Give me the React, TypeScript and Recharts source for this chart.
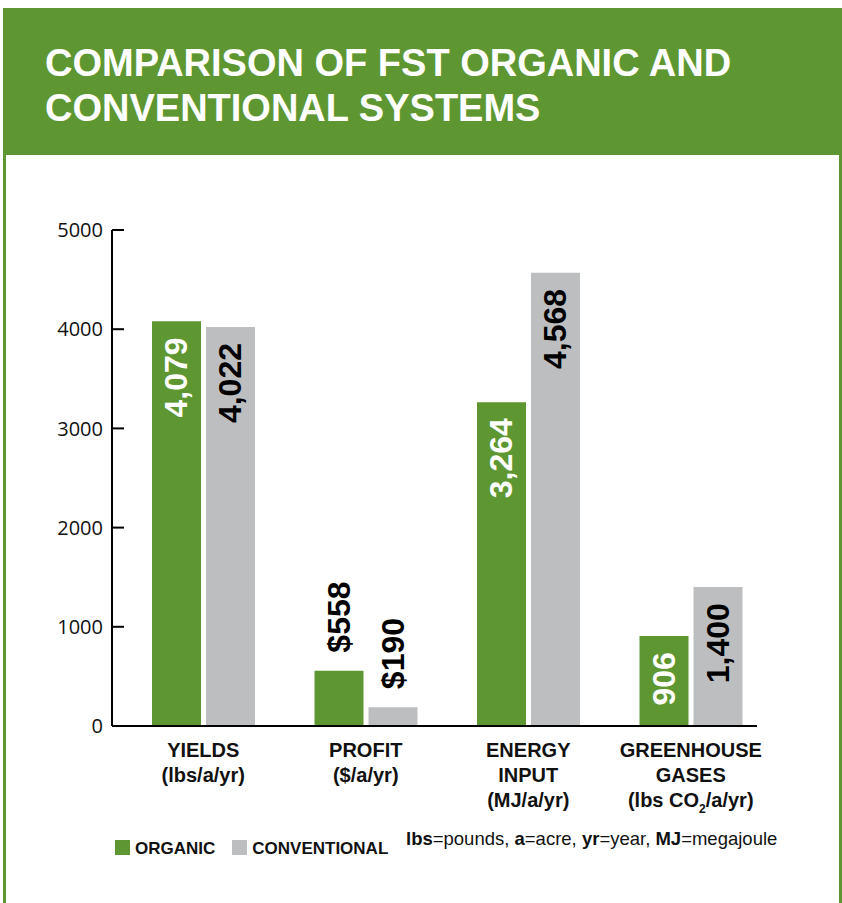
import React from 'react';
import { BarChart, Bar, XAxis, YAxis } from 'recharts';

const categories = ['yields', 'profit', 'energy', 'ghg'];
const categoryLines = [
  ['YIELDS', '(lbs/a/yr)'],
  ['PROFIT', '($/a/yr)'],
  ['ENERGY', 'INPUT', '(MJ/a/yr)'],
  ['GREENHOUSE', 'GASES', '(lbs CO2/a/yr)'],
];
const organicValues = [4079, 558, 3264, 906];
const conventionalValues = [4022, 190, 4568, 1400];
const valuePrefix = ['', '$', '', ''];
const yTicks = [0, 1000, 2000, 3000, 4000, 5000];

const GREEN = '#5e9732';
const GRAY = '#bdbec0';
const SANS = '"Liberation Sans", Arial, Helvetica, sans-serif';
const AXIS_LEN = 645;

const data = categories.map((key, i) => ({
  key,
  organic: organicValues[i],
  conventional: conventionalValues[i],
}));

function formatValue(value: number, index: number) {
  return valuePrefix[index] + value.toLocaleString('en-US');
}

function YTick(props: any) {
  const { x, y, payload } = props;
  return (
    <g>
      <line x1={x} x2={x + 12} y1={y} y2={y} stroke="#000" strokeWidth={2} />
      {payload.value === 0 && (
        <line x1={x} x2={x + AXIS_LEN} y1={y} y2={y} stroke="#000" strokeWidth={2} />
      )}
      <text
        x={x - 9}
        y={y}
        dy="0.36em"
        textAnchor="end"
        fontFamily='"Open Sans", sans-serif'
        fontSize={20}
        fill="#111"
      >
        {payload.value}
      </text>
    </g>
  );
}

function XTick(props: any) {
  const { x, y, index } = props;
  const lines = categoryLines[index] || [];
  return (
    <g>
      {lines.map((line, i) => {
        const parts = line.split('CO2');
        return (
          <text
            key={i}
            x={x}
            y={y + 31 + i * 25}
            textAnchor="middle"
            fontFamily={SANS}
            fontWeight="bold"
            fontSize={20}
            fill="#111"
          >
            {parts.length > 1 ? (
              <>
                {parts[0]}CO
                <tspan fontSize={12} dy={6}>2</tspan>
                <tspan dy={-6}>{parts[1]}</tspan>
              </>
            ) : (
              line
            )}
          </text>
        );
      })}
    </g>
  );
}

// tall bars get their value inside, short ones above
function makeLabel(inside: string) {
  return (props: any) => {
    const { x, y, width, height, value, index } = props;
    const cx = x + width / 2;
    const fitsInside = height > 70;
    const ay = fitsInside ? y + 16 : y - 18;
    return (
      <text
        x={cx}
        y={ay}
        transform={`rotate(-90, ${cx}, ${ay})`}
        textAnchor={fitsInside ? 'end' : 'start'}
        dominantBaseline="central"
        fontFamily={SANS}
        fontWeight="bold"
        fontSize={32}
        fill={fitsInside ? inside : '#000'}
      >
        {formatValue(value, index)}
      </text>
    );
  };
}

export default function App() {
  return (
    <div style={{ position: 'absolute', left: 0, top: 0, width: 842, height: 903, background: '#fff', overflow: 'hidden' }}>
      <div
        style={{
          position: 'absolute',
          left: 3,
          top: 8,
          width: 833,
          height: 900,
          borderLeft: `3px solid ${GREEN}`,
          borderRight: `3px solid ${GREEN}`,
        }}
      />
      <div style={{ position: 'absolute', left: 3, top: 8, width: 839, height: 147, background: GREEN }} />
      <div
        style={{
          position: 'absolute',
          left: 45,
          top: 41,
          color: '#fff',
          fontFamily: SANS,
          fontWeight: 'bold',
          fontSize: 38,
          lineHeight: '45px',
        }}
      >
        COMPARISON OF FST ORGANIC AND
        <br />
        CONVENTIONAL SYSTEMS
      </div>

      <div style={{ position: 'absolute', left: 0, top: 0 }}>
        <BarChart
          width={842}
          height={903}
          data={data}
          margin={{ top: 230, right: 70, bottom: 77, left: 0 }}
          barGap={5}
        >
          <XAxis
            dataKey="key"
            axisLine={false}
            tickLine={false}
            tickSize={0}
            tickMargin={0}
            height={100}
            padding={{ left: 10, right: 0 }}
            tick={<XTick />}
            interval={0}
          />
          <YAxis
            width={112}
            domain={[0, 5000]}
            ticks={yTicks}
            axisLine={{ stroke: '#000', strokeWidth: 2 }}
            tickLine={false}
            tickSize={0}
            tickMargin={0}
            tick={<YTick />}
            interval={0}
          />
          <Bar dataKey="organic" fill={GREEN} barSize={49} isAnimationActive={false} label={makeLabel('#fff')} />
          <Bar dataKey="conventional" fill={GRAY} barSize={49} isAnimationActive={false} label={makeLabel('#000')} />
        </BarChart>
      </div>

      <div
        style={{
          position: 'absolute',
          left: 115,
          top: 838,
          display: 'flex',
          alignItems: 'center',
          fontFamily: SANS,
          fontWeight: 'bold',
          fontSize: 17,
          lineHeight: '15px',
          color: '#111',
        }}
      >
        <span style={{ display: 'inline-block', width: 15, height: 15, background: GREEN, marginRight: 5 }} />
        <span style={{ marginRight: 17, paddingTop: 3 }}>ORGANIC</span>
        <span style={{ display: 'inline-block', width: 15, height: 15, background: GRAY, marginRight: 5 }} />
        <span style={{ paddingTop: 3 }}>CONVENTIONAL</span>
      </div>

      <div
        style={{
          position: 'absolute',
          left: 406,
          top: 829,
          fontFamily: SANS,
          fontSize: 18.5,
          lineHeight: '20px',
          color: '#111',
          whiteSpace: 'nowrap',
        }}
      >
        <b>lbs</b>=pounds, <b>a</b>=acre, <b>yr</b>=year, <b>MJ</b>=megajoule
      </div>
    </div>
  );
}
